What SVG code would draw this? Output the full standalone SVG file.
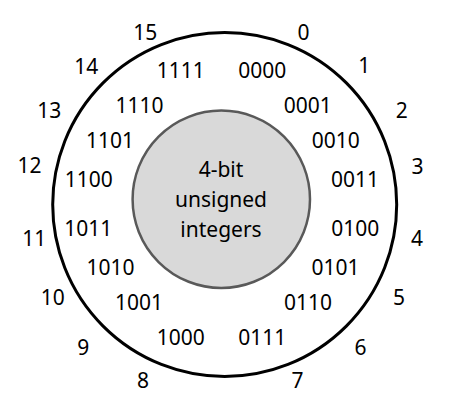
<svg xmlns="http://www.w3.org/2000/svg" width="451" height="413" viewBox="0 0 451 413">
<style>
text{font-family:"Noto Sans","Open Sans","Liberation Sans",sans-serif;font-size:21px;fill:#000;text-anchor:middle}
.outer{fill:none;stroke:#000;stroke-width:3}
.inner{fill:#d9d9d9;stroke:#595959;stroke-width:2.5}
</style>
<rect width="451" height="413" fill="#fff"/>
<g id="outer-ring"><circle class="outer" cx="224.7" cy="204.5" r="172"/></g>
<g id="center"><circle class="inner" cx="221.3" cy="199.3" r="88.7"/>
<text x="221" y="177">4-bit</text>
<text x="221" y="207">unsigned</text>
<text x="221" y="237">integers</text>
</g>
<g id="decimals">
<text x="303.5" y="39.5">0</text>
<text x="364.3" y="73">1</text>
<text x="401.7" y="118.3">2</text>
<text x="417.5" y="173.5">3</text>
<text x="417" y="245.5">4</text>
<text x="399" y="305.2">5</text>
<text x="360.5" y="355.2">6</text>
<text x="297.5" y="387.5">7</text>
<text x="143" y="388.3">8</text>
<text x="83.3" y="355.2">9</text>
<text x="52.8" y="305.2">10</text>
<text x="34.2" y="245.5">11</text>
<text x="29.5" y="173.3">12</text>
<text x="49.3" y="118.3">13</text>
<text x="86.3" y="73.5">14</text>
<text x="145.3" y="39.5">15</text>
</g>
<g id="binaries">
<text x="262.2" y="78.2">0000</text>
<text x="307.8" y="113.3">0001</text>
<text x="335.8" y="147.8">0010</text>
<text x="355" y="186.7">0011</text>
<text x="355.2" y="235.8">0100</text>
<text x="335.5" y="275.2">0101</text>
<text x="308" y="309.8">0110</text>
<text x="262.2" y="345.2">0111</text>
<text x="180.8" y="345.2">1000</text>
<text x="139" y="309.8">1001</text>
<text x="110.5" y="275.2">1010</text>
<text x="88.3" y="235.8">1011</text>
<text x="88.8" y="186.7">1100</text>
<text x="110" y="147.8">1101</text>
<text x="139.5" y="113.3">1110</text>
<text x="180.7" y="78.2">1111</text>
</g>
</svg>
